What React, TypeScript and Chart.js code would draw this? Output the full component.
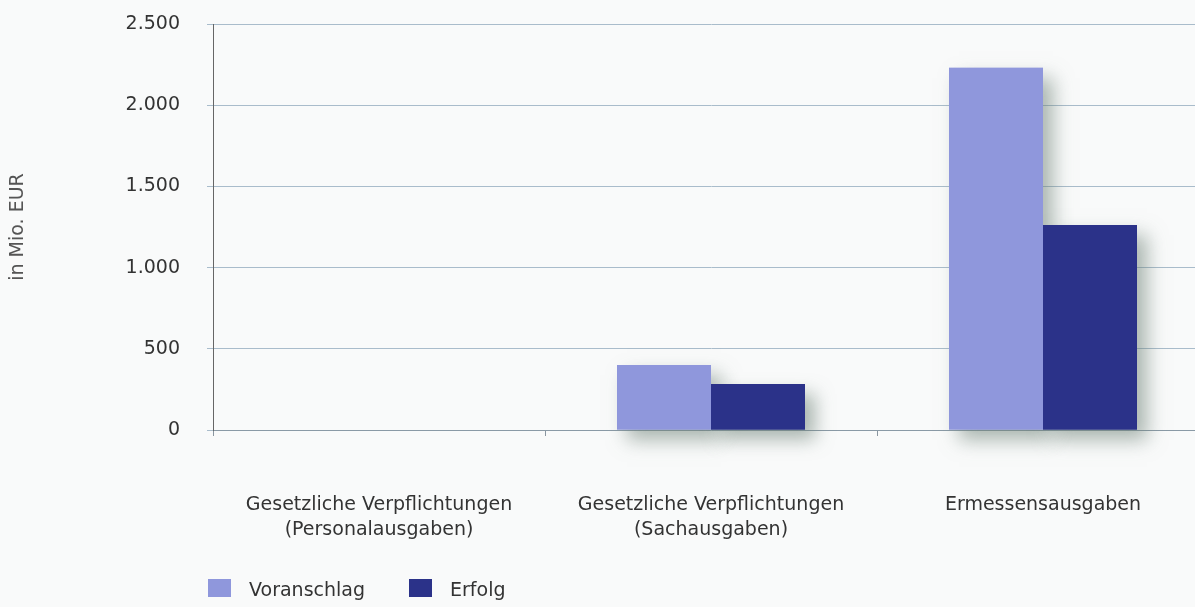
import React, { useEffect, useRef } from "react";
import { Chart, registerables } from "chart.js";

Chart.register(...registerables);

const categories: string[][] = [
  ["Gesetzliche Verpflichtungen", "(Personalausgaben)"],
  ["Gesetzliche Verpflichtungen", "(Sachausgaben)"],
  ["Ermessensausgaben"],
];
const seriesNames = ["Voranschlag", "Erfolg"];
const voranschlag = [0, 400, 2230];
const erfolg = [0, 283, 1262];
const yTicks = [0, 500, 1000, 1500, 2000, 2500];
const yTitle = "in Mio. EUR";

const FONT = "'DejaVu Sans', sans-serif";
const formatDE = (v: number) => String(Math.round(v)).replace(/\B(?=(\d{3})+(?!\d))/g, ".");

// Draws a soft drop shadow under all bars before the bars themselves are painted
const shadowPlugin = {
  id: "barShadow",
  beforeDatasetsDraw(chart: any) {
    const ctx = chart.ctx;
    ctx.save();
    ctx.shadowColor = "rgba(105,125,115,0.55)";
    ctx.shadowBlur = 18;
    ctx.shadowOffsetX = 10;
    ctx.shadowOffsetY = 10;
    chart.data.datasets.forEach((ds: any, i: number) => {
      const meta = chart.getDatasetMeta(i);
      meta.data.forEach((el: any) => {
        const { x, y, base, width } = el.getProps(["x", "y", "base", "width"], true);
        const h = Math.abs(base - y);
        if (h < 0.5) return;
        ctx.fillStyle = ds.backgroundColor;
        ctx.fillRect(x - width / 2, Math.min(y, base), width, h);
      });
    });
    ctx.restore();
  },
};

const legendPlugin = {
  id: "customLegend",
  afterDraw(chart: any) {
    const ctx = chart.ctx;
    const left = chart.chartArea.left - 5;
    const cy = 588;
    ctx.save();
    ctx.font = `19px ${FONT}`;
    ctx.textBaseline = "middle";
    ctx.textAlign = "left";
    let x = left;
    chart.data.datasets.forEach((ds: any, i: number) => {
      ctx.fillStyle = ds.backgroundColor;
      ctx.fillRect(x, cy - 9, 23, 18);
      ctx.fillStyle = "#333";
      ctx.fillText(ds.label, x + 41, cy + 3);
      x += i === 0 ? 201 : 0;
    });
    ctx.restore();
  },
};

export default function App() {
  const ref = useRef<HTMLCanvasElement | null>(null);
  useEffect(() => {
    if (!ref.current) return;
    document.body.style.overflow = "hidden";
    const chart = new Chart(ref.current, {
      type: "bar",
      data: {
        labels: categories,
        datasets: [
          { label: seriesNames[0], data: voranschlag, backgroundColor: "#8f97dc", clip: false as any },
          { label: seriesNames[1], data: erfolg, backgroundColor: "#2b3289", clip: false as any },
        ],
      },
      options: {
        responsive: false,
        animation: false,
        layout: { padding: { top: 24, right: 0, bottom: 0, left: 0 } },
        datasets: { bar: { categoryPercentage: 0.566, barPercentage: 1.0 } },
        plugins: { legend: { display: false }, tooltip: { enabled: false } },
        scales: {
          x: {
            grid: { display: true, drawOnChartArea: false, drawTicks: true, tickLength: 6, color: "#8a96a0", offset: true },
            border: { display: true, color: "#8a9aa6", width: 1 },
            ticks: { color: "#333", font: { family: FONT, size: 19, lineHeight: 1.34 }, padding: 56, maxRotation: 0, autoSkip: false },
            afterFit: (s: any) => { s.height = 177; s.paddingLeft = 0; s.paddingRight = 0; },
          },
          y: {
            min: 0,
            max: 2500,
            afterBuildTicks: (s: any) => { s.ticks = yTicks.map((v) => ({ value: v })); },
            grid: { color: "#a9bccb", lineWidth: 1, tickLength: 6, drawTicks: true },
            border: { display: true, color: "#666", width: 1 },
            ticks: { color: "#333", font: { family: FONT, size: 19 }, padding: 27, callback: (v: any) => formatDE(Number(v)) },
            title: { display: true, text: yTitle, color: "#555", font: { family: FONT, size: 19 }, padding: { top: 7, bottom: 0 } },
            afterFit: (s: any) => { s.width = 213; s.paddingTop = 0; s.paddingBottom = 0; },
          },
        },
      },
      plugins: [shadowPlugin, legendPlugin],
    });
    return () => chart.destroy();
  }, []);
  return (
    <div style={{ position: "fixed", left: 0, top: 0, width: 1209, height: 607, background: "#f9fafa" }}>
      <canvas ref={ref} width={1209} height={607} style={{ display: "block" }} />
    </div>
  );
}
